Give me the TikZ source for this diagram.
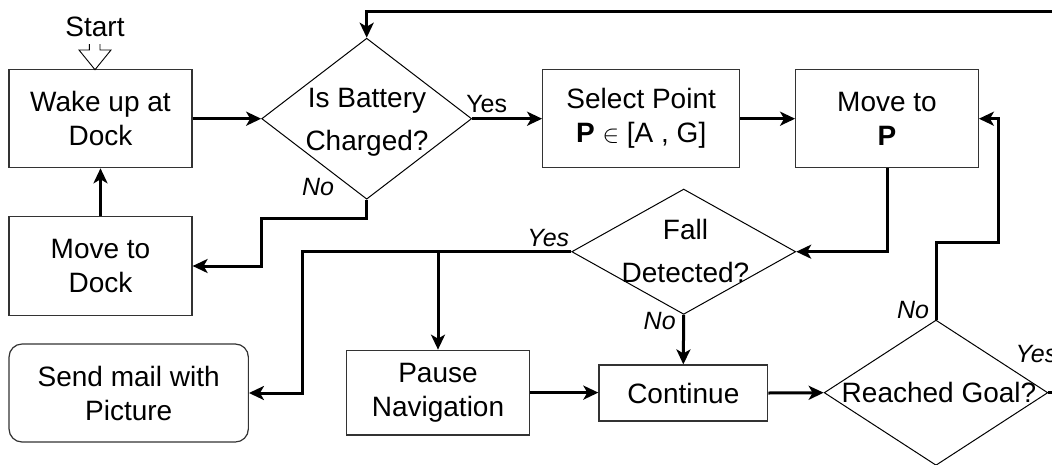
\documentclass[tikz,border=0pt]{standalone}
\usepackage{fontspec}
\setmainfont{Liberation Sans}
\usetikzlibrary{arrows.meta,shapes.geometric,calc}
\begin{document}
\begin{tikzpicture}[x=1pt,y=-1pt,
  box/.style={draw=black!80, line width=1.2pt, inner sep=0pt, align=center,
    font=\fontsize{28}{34}\selectfont},
  dia/.style={draw=black, line width=1pt, diamond, inner sep=0pt, aspect=1},
  dtext/.style={inner sep=0pt, align=center, font=\fontsize{28}{43}\selectfont},
  lbl/.style={inner sep=0pt, font=\fontsize{25}{30}\selectfont\itshape},
  lblup/.style={inner sep=0pt, font=\fontsize{25}{30}\selectfont},
  conn/.style={line width=3pt, -{Stealth[length=15pt,width=14pt,inset=4pt]}}]
\useasboundingbox (0,0) rectangle (1052,464);
\clip (0,0) rectangle (1052,464);

% boxes
\node[box, minimum width=183pt, minimum height=98pt] (wake) at (100.5,118.7) {Wake up at\\Dock};
\node[box, minimum width=197pt, minimum height=98pt] (select) at (641.2,118.7) {Select Point\\\textbf{P} $\in$ [A , G]};
\node[box, minimum width=182.6pt, minimum height=98pt] (movep) at (887,118.7) {Move to\\\textbf{P}};
\node[box, minimum width=183pt, minimum height=98.6pt] (dock) at (100.5,266) {Move to\\Dock};
\node[box, rounded corners=13pt, minimum width=239.3pt, minimum height=98pt] (mail) at (128.7,393) {Send mail with\\Picture};
\node[box, minimum width=182.7pt, minimum height=84.7pt] (pause) at (438,392.6) {Pause\\Navigation};
\node[box, minimum width=168.7pt, minimum height=56pt] (cont) at (683.3,393) {Continue};

% diamonds
\node[dia, minimum width=210pt, minimum height=161pt] (battery) at (366.7,118.7) {};
\node[dtext] (batteryt) at (367,122.5) {Is Battery\\Charged?};
\node[dia, minimum width=224pt, minimum height=125.3pt] (fall) at (683.7,251.7) {};
\node[dtext] (fallt) at (685.5,251.3) {Fall\\Detected?};
\node[dia, minimum width=223.7pt, minimum height=145.3pt] (reached) at (936,392.7) {};
\node[dtext] (reachedt) at (939,392.5) {Reached Goal?};

% start marker
\node[inner sep=0pt, font=\fontsize{28}{34}\selectfont] (start) at (95,27) {Start};
\coordinate (starttip) at (95,69.7);
\draw[line width=0.9pt, line join=miter] ($(starttip)+(-5.7,-25.7)$) -- ++(0,6) -- ++(-10.3,0)
  -- (starttip) -- ++(16,-19.7) -- ++(-11,0) -- ++(0,-6);

% connectors
\draw[conn] (wake.east) -- (battery.west);
\draw[conn] (battery.east) -- (select.west);
\draw[conn] (select.east) -- (movep.west);
\draw[conn] (movep.south) |- (fall.east);
\draw[conn] (fall.west) -- ++(-268.4,0) |- (mail.east);
\draw[conn] (pause.north |- fall.west) -- (pause.north);
\draw[conn] (pause.east) -- (cont.west |- pause.east);
\draw[conn] (fall.south) -- (cont.north);
\draw[conn] (cont.east) -- (reached.west);
\draw[conn] (reached.north) -- ++(0,-77.4) -| ($(movep.east)+(20,0)$) -- (movep.east);
\draw[conn] (reached.east) -- ++(40,0) |- (1090,11) -| (battery.north);
\draw[conn] (battery.south) -- ++(0,18.7) -- ++(-105,0) |- (dock.east);
\draw[conn] (dock.north) -- (wake.south);

% labels
\node[lblup] (yes1) at (486.7,104) {Yes};
\node[lbl] (no1) at (318,186.7) {No};
\node[lbl] (yes2) at (548.3,238.5) {Yes};
\node[lbl] (no2) at (659.7,320.7) {No};
\node[lbl] (no3) at (913,309.7) {No};
\node[lbl] (yes3) at (1036.5,353.7) {Yes};
\end{tikzpicture}
\end{document}
